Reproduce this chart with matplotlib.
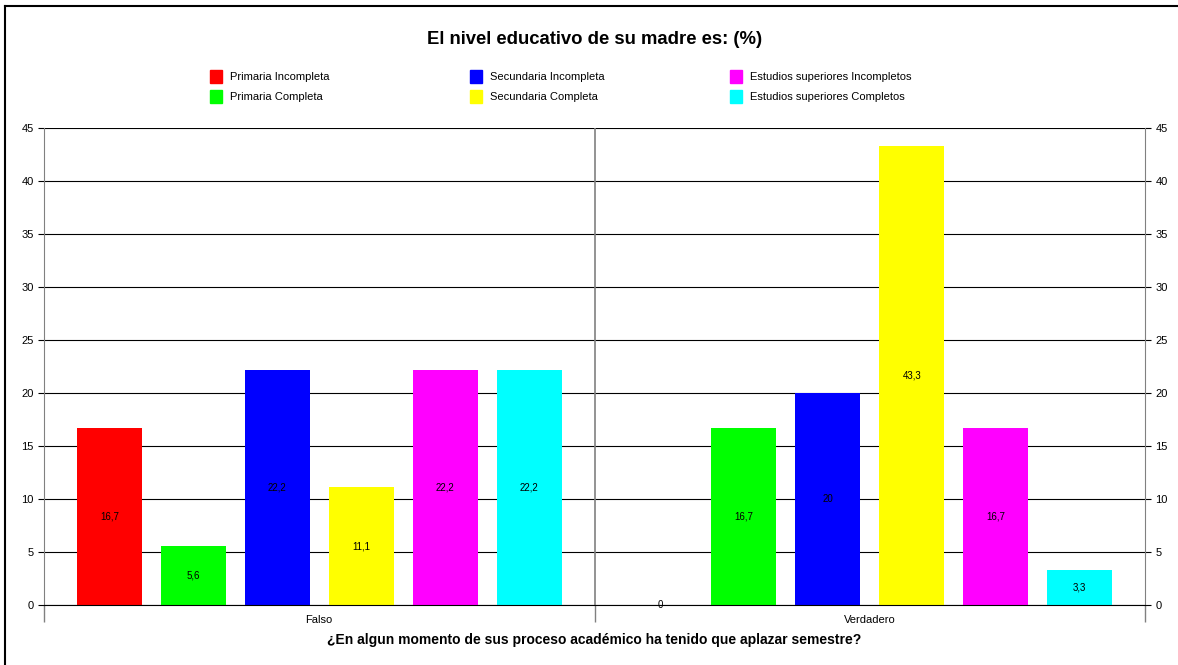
import numpy as np
import matplotlib.pyplot as plt
from matplotlib.lines import Line2D
from matplotlib.patches import Rectangle

plt.rcParams['font.family'] = ['Liberation Sans', 'DejaVu Sans']

# Datos
grupos = ['Falso', 'Verdadero']
series = ['Primaria Incompleta', 'Primaria Completa', 'Secundaria Incompleta',
          'Secundaria Completa', 'Estudios superiores Incompletos',
          'Estudios superiores Completos']
valores = [
    [16.7, 0.0],   # Primaria Incompleta
    [5.6, 16.7],   # Primaria Completa
    [22.2, 20.0],  # Secundaria Incompleta
    [11.1, 43.3],  # Secundaria Completa
    [22.2, 16.7],  # Estudios superiores Incompletos
    [22.2, 3.3],   # Estudios superiores Completos
]
colores = ['#ff0000', '#00ff00', '#0000ff', '#ffff00', '#ff00ff', '#00ffff']

W, H = 1178, 665
fig = plt.figure(figsize=(W/100, H/100), dpi=100)
ax = fig.add_axes([44/W, 1 - 605/H, (1145 - 44)/W, (605 - 128)/H])

paso = 84 / 551
ancho = 65 / 551
x0 = np.arange(len(grupos))
for i, (nombre, vals, c) in enumerate(zip(series, valores, colores)):
    xs = x0 - 0.5 + 33/551 + ancho/2 + i*paso
    bars = ax.bar(xs, vals, width=ancho, color=c, label=nombre, zorder=2)
    for b, v in zip(bars, vals):
        txt = ('%.1f' % v).replace('.', ',')
        if txt.endswith(',0'):
            txt = txt[:-2]
        ax.text(b.get_x() + b.get_width()/2, v/2, txt, ha='center', va='center',
                fontsize=7, zorder=3)

ax.set_xlim(-0.5, 1.5)
ax.set_ylim(0, 45)
ax.set_yticks(np.arange(0, 46, 5))
ax.yaxis.grid(True, color='black', linewidth=0.8, zorder=0)
ax.set_axisbelow(True)
ax.axvline(0.5, color='#808080', linewidth=1.2, zorder=1)

ax.set_xticks([0, 1])
ax.set_xticklabels(grupos, fontsize=8)
ax.set_xticks([-0.5, 0.5, 1.5], minor=True)
ax.tick_params(axis='x', which='major', length=0, pad=7)
ax.tick_params(axis='x', which='minor', length=12, width=1, color='#808080')
ax.tick_params(axis='y', labelsize=8, length=4, right=True, labelright=True,
               direction='out')

ax.spines['top'].set_visible(False)
ax.spines['left'].set_color('#808080')
ax.spines['right'].set_color('#808080')
ax.spines['bottom'].set_color('black')

ax.set_xlabel('¿En algun momento de sus proceso académico ha tenido que aplazar semestre?',
              fontsize=10, fontweight='bold', labelpad=5)

fig.text(595/W, 1 - 39/H, 'El nivel educativo de su madre es: (%)', ha='center',
         va='center', fontsize=13.3, fontweight='bold')

# Leyenda: 3 columnas x 2 filas
for i, (nombre, c) in enumerate(zip(series, colores)):
    col, fila = i // 2, i % 2
    xl = (210 + col*260) / W
    yl = 1 - (76 + fila*20) / H
    fig.add_artist(Rectangle((xl, yl - 6.5/H), 12/W, 13/H, color=c,
                             transform=fig.transFigure))
    fig.text(xl + 20/W, yl - 1.5/H, nombre, fontsize=8, va='center', ha='left')

# borde de la figura
fig.add_artist(Line2D([5/W, 5/W], [0, 1 - 6/H], color='black', lw=1.5,
                      transform=fig.transFigure))
fig.add_artist(Line2D([5/W, 1], [1 - 6/H, 1 - 6/H], color='black', lw=1.5,
                      transform=fig.transFigure))

fig.savefig('out.png', dpi=100)
